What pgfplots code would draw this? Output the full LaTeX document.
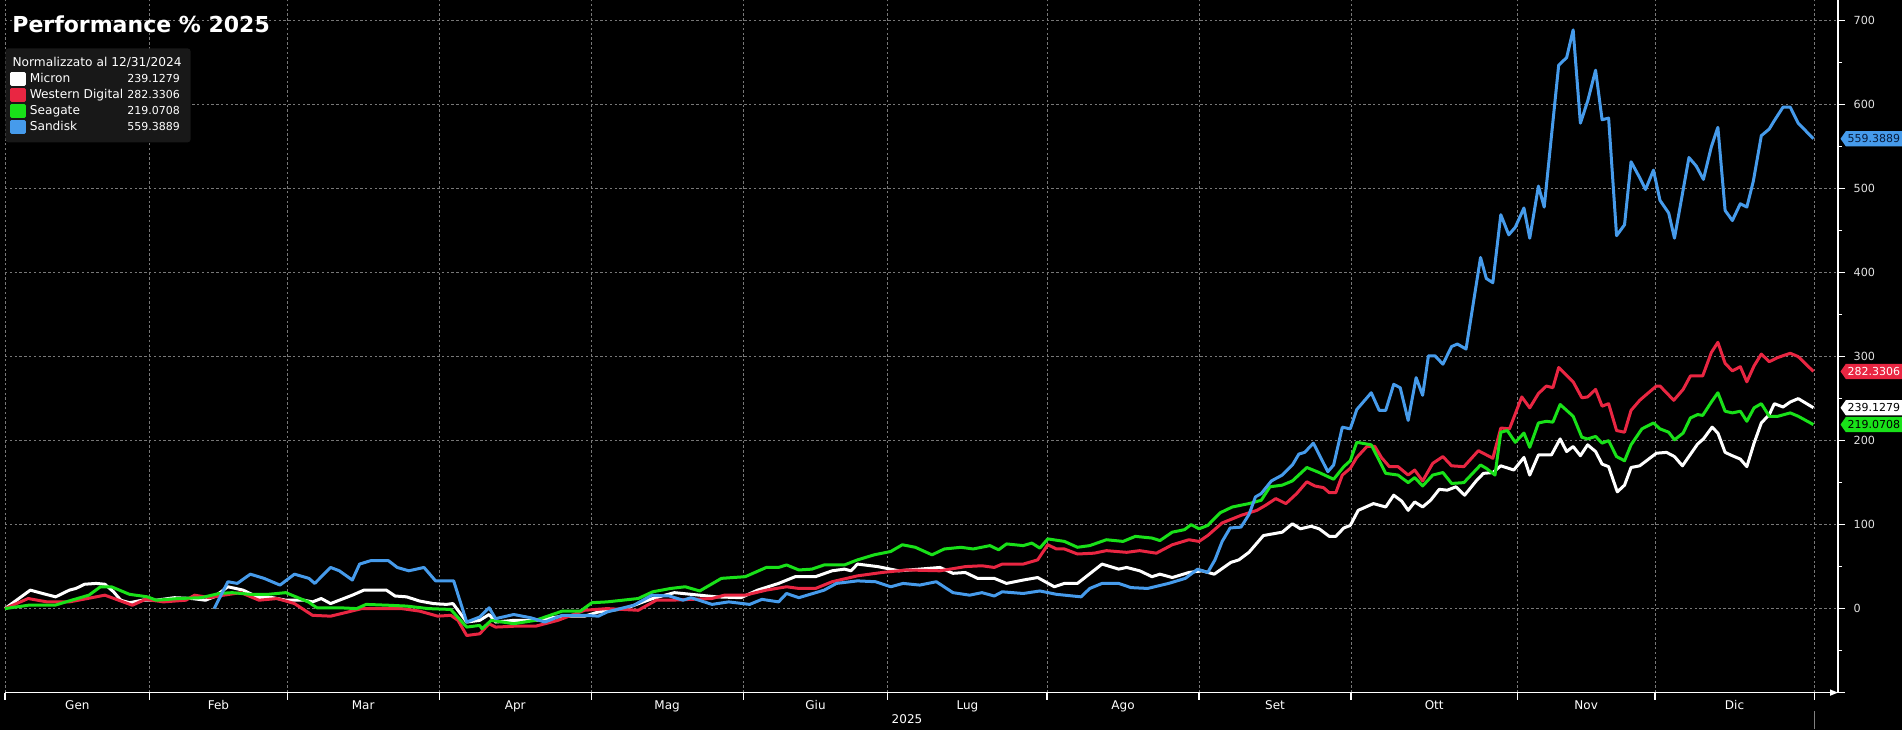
\documentclass[border=0pt]{standalone}
\usepackage{fontspec}
\setmainfont{DejaVu Sans}
\usepackage{pgfplots}
\pgfplotsset{compat=1.18}
\usetikzlibrary{shapes.symbols,arrows.meta}
\definecolor{mu}{RGB}{255,255,255}
\definecolor{wd}{RGB}{233,38,66}
\definecolor{sg}{RGB}{25,225,25}
\definecolor{sd}{RGB}{70,155,235}
\definecolor{gridc}{RGB}{120,120,120}
\definecolor{legbg}{RGB}{24,24,24}
\definecolor{navy}{RGB}{8,28,60}
\newcommand{\val}[1]{{\fontsize{5.5bp}{6.5bp}\selectfont #1}}
\begin{document}
\begin{tikzpicture}
\useasboundingbox (0,0) rectangle (951bp,365bp);
\fill[black] (-3bp,-3bp) rectangle (954bp,368bp);
\begin{axis}[
  at={(2.5bp,18.7bp)}, anchor=south west,
  scale only axis, width=916.5bp, height=346.3bp,
  xmin=0, xmax=253.3, ymin=-100, ymax=724.6,
  clip=false,
  axis x line*=bottom, axis y line*=right,
  axis line style={white, line width=0.7bp},
  x axis line style={-{Triangle[length=4bp,width=3bp]}},
  tick align=outside,
  major tick length=3.5bp, minor tick length=2bp,
  tick style={white, line width=0.6bp},
  xtick={0,20,39,60,81,102,122,144,165,186,209,228,250},
  xticklabels={},
  extra x ticks={10,29.5,49.5,70.5,91.5,112,133,154.5,175.5,197.5,218.5,239},
  extra x tick labels={Gen,Feb,Mar,Apr,Mag,Giu,Lug,Ago,Set,Ott,Nov,Dic},
  extra x tick style={major tick length=0pt, grid=none,
     xticklabel style={text=white, font=\fontsize{6bp}{7bp}\selectfont, yshift=-0.5bp}},
  ytick={-100,0,100,...,700},
  yticklabels={,0,100,200,300,400,500,600,700},
  minor y tick num=1,
  yticklabel style={text={rgb,255:red,225;green,225;blue,225}, font=\fontsize{5.6bp}{6.5bp}\selectfont, xshift=0.8bp},
  /pgf/number format/assume math mode=true,
  xmajorgrids, ymajorgrids,
  grid style={gridc, dash pattern=on 1.2bp off 1.2bp, line width=0.4bp},
  every axis plot/.append style={line width=1.5bp, line join=round, no markers},
  legend style={at={(0,0.9307)}, anchor=north west, fill=legbg, draw=none,
     text=white, font=\fontsize{6.1bp}{7bp}\selectfont, row sep=0pt,
     inner xsep=2.5bp, inner ysep=3.5bp, rounded corners=1.5bp,
     nodes={text height=5.0bp, text depth=1.6bp, inner ysep=0.7bp}},
  legend cell align=left,
  legend image code/.code={\fill[#1, sharp corners] (0bp,-2.5bp) rectangle (6.2bp,2.9bp);},
]
\addlegendimage{empty legend}
\addlegendentry{\hspace*{-8.6bp}Normalizzato al 12/31/2024}

% Micron
\addplot[color=mu] coordinates {
(0,0)(3.5,22)(5.2,18)(7.0,14)(8.9,22)(9.8,24)(11.0,29)(12.6,30)(13.8,29)(15.0,20)(16.0,10)(17.2,7)(19.0,10)(20.9,10)(23.4,13)(25.8,12)(27.7,10)(28.9,14)(30.8,26)(32.9,22)(35.1,13)(37.0,13)(38.8,10)(41.3,10)(42.5,8)(43.7,12)(45.0,6)(46.2,10)(48.0,16)(49.6,22)(51.1,22)(52.7,22)(53.9,15)(55.5,14)(57.3,9)(59.2,6)(61.0,5)(61.9,6)(63.8,-16)(65.6,-14)(66.9,-7)(67.8,-16)(70.3,-14)(73.3,-14)(77.0,-9)(80.1,-9)(82.0,-4)(85.7,0)(88.2,8)(89.5,12)(92.5,19)(94.8,17)(98.3,14)(101.7,13)(104,22)(106.9,30)(109.2,38)(112,38)(114.3,45)(116,47)(116.9,45)(117.8,53)(120.6,50)(123.5,45)(126.4,47)(129.2,49)(131,42)(132.7,43)(134.4,36)(136.7,36)(138.4,30)(140.7,34)(142.7,37)(145,26)(146.4,30)(148.2,30)(151.6,53)(153.9,47)(155,49)(156.8,45)(158.5,38)(159.6,41)(161.3,37)(163.6,43)(165.4,45)(167.1,41)(169.4,55)(170.5,58)(171.9,67)(173.9,87)(176.5,91)(177.9,101)(179,95)(180.5,98)(181.6,95)(183,86)(183.9,86)(185,96)(185.9,99)(187,117)(189.1,125)(190.8,121)(191.9,135)(193,128)(193.9,117)(194.8,127)(195.9,121)(197,129)(198.2,142)(199.3,141)(200.5,145)(201.7,135)(203.3,152)(204.3,161)(205.6,162)(206.7,170)(208.5,165)(209.9,180)(210.7,159)(211.9,183)(213.7,183)(214.9,202)(215.8,187)(216.7,193)(217.7,182)(218.7,195)(219.8,187)(220.7,172)(221.6,169)(222.8,139)(223.8,147)(224.7,168)(225.9,170)(228.2,185)(229.6,186)(230.7,181)(231.8,170)(233.9,196)(234.7,202)(235.9,216)(236.7,209)(237.7,186)(238.7,182)(239.8,178)(240.7,169)(241.7,197)(242.7,221)(243.8,231)(244.5,244)(245.7,240)(246.7,246)(247.8,250)(249.9,239.13)
};
\addlegendentry{\makebox[75bp][l]{Micron\hfill \val{239.1279}}}

% Western Digital
\addplot[color=wd] coordinates {
(0,0)(3.2,12)(5.8,8)(8.9,8)(12.0,13)(13.8,16)(15.7,10)(17.6,4)(19.4,11)(21.9,8)(25.0,10)(26.2,16)(28.3,13)(30.2,16)(32.6,19)(35.1,10)(37.6,12)(40.0,6)(42.5,-8)(45.0,-9)(47.4,-4)(49.3,0)(51.7,0)(54.8,0)(57.3,-3)(59.8,-9)(61.6,-8)(62.6,-14)(63.8,-32)(65.6,-30)(66.9,-18)(67.8,-22)(70.3,-21)(73.3,-21)(76.4,-14)(80.1,-2)(83.2,0)(87.5,-2)(90.0,10)(92,10)(94.8,11)(97.7,12)(99.4,16)(102.3,16)(105.2,22)(108,26)(109.7,24)(112,24)(114.3,32)(117.8,39)(121.2,43)(124.6,46)(129.2,45)(132.7,50)(135,51)(136.7,49)(137.8,53)(140.7,53)(142.7,58)(144.1,76)(145.3,71)(146.4,71)(148.2,65)(150.5,66)(152.2,69)(155,67)(156.8,69)(159.1,66)(161.3,76)(163.6,82)(165,80)(166.2,87)(168.2,102)(170.8,111)(173,117)(174.2,123)(175.6,131)(177,125)(178.5,137)(179.9,151)(181,146)(182.2,144)(183,138)(183.9,138)(184.8,159)(185.9,167)(186.8,180)(188.2,193)(189.3,193)(190.2,180)(191.3,169)(192.5,169)(193.9,159)(194.8,165)(195.9,152)(197.3,173)(198.7,181)(199.9,170)(201.6,169)(203.6,188)(205.6,179)(206.7,215)(207.9,214)(209.6,252)(210.7,239)(211.9,256)(213,265)(213.9,263)(214.7,287)(216.7,270)(217.9,251)(218.7,252)(219.8,261)(220.7,241)(221.6,244)(222.7,212)(223.8,210)(224.7,236)(225.9,248)(226.7,254)(228.2,265)(228.7,265)(230.6,248)(231.9,261)(232.9,277)(234.6,277)(235.8,305)(236.7,317)(237.7,292)(238.7,283)(239.8,288)(240.7,270)(241.7,289)(242.7,303)(243.8,294)(245,299)(246.7,304)(247.8,300)(249.9,282.33)
};
\addlegendentry{\makebox[75bp][l]{Western Digital\hfill \val{282.3306}}}

% Seagate
\addplot[color=sg] coordinates {
(0,0)(3.2,4)(6.9,4)(9.2,10)(11.6,16)(13.2,26)(14.7,26)(17.2,17)(19.7,14)(20.9,10)(24.0,12)(27.1,13)(29.6,18)(31.4,19)(33.9,17)(36.4,17)(38.8,19)(41.9,8)(43.1,1)(46.2,1)(48.6,0)(49.9,5)(53.0,4)(55.5,3)(58.5,0)(61.6,-1)(63.8,-22)(65.6,-20)(65.9,-24)(67.2,-14)(70.3,-18)(73.3,-14)(77.0,-3)(79.5,-3)(81.1,7)(83.2,8)(87.5,12)(89.5,20)(92,24)(94,26)(96,21)(99,36)(100.6,37)(102.3,38)(105.2,49)(106.9,49)(108,52)(109.7,46)(111.5,47)(113.2,52)(116,52)(117.8,58)(120.1,64)(122.4,68)(124,76)(125.8,73)(128.1,64)(129.8,71)(132.1,73)(133.8,71)(136.1,75)(137.3,70)(138.4,77)(140.7,75)(141.9,78)(143,72)(144.1,83)(146.4,80)(148.2,73)(149.9,75)(152.2,82)(154.5,80)(156.2,86)(158.5,84)(159.6,81)(161.3,91)(163,94)(163.9,100)(165,95)(166.2,99)(167.9,114)(169.6,121)(171.9,125)(173.6,129)(174.8,145)(176.5,147)(177.9,152)(179.9,168)(181.6,162)(183.6,154)(185,169)(185.9,176)(186.8,198)(188.8,195)(190.8,161)(192.5,159)(193.9,150)(194.8,156)(195.9,146)(197.3,159)(198.7,162)(199.9,149)(201.6,150)(203.9,171)(204.7,167)(205.9,159)(206.7,210)(207.6,212)(208.7,198)(209.9,209)(210.7,192)(211.9,221)(213,223)(213.9,222)(214.9,243)(216.7,229)(217.9,204)(218.7,202)(219.8,205)(220.7,197)(221.6,200)(222.7,181)(223.8,176)(224.7,195)(226.2,214)(227.8,221)(228.7,214)(229.9,210)(230.7,201)(231.9,209)(232.9,227)(233.9,231)(234.6,230)(235.8,246)(236.7,257)(237.7,235)(238.7,233)(239.8,235)(240.7,223)(241.7,239)(242.7,244)(243.8,229)(245,229)(246.7,233)(247.8,229)(249.9,219.07)
};
\addlegendentry{\makebox[75bp][l]{Seagate\hfill \val{219.0708}}}

% Sandisk
\addplot[color=sd] coordinates {
(28.9,0)(30.8,32)(32.1,30)(33.9,41)(35.8,36)(38.0,28)(40.0,41)(42.0,36)(42.8,30)(45.0,49)(46.2,45)(48.0,34)(49.0,53)(50.5,57)(53.0,57)(54.2,49)(55.8,45)(57.9,49)(59.5,33)(62.0,33)(63.8,-16)(65.6,-10)(66.9,1)(67.8,-12)(70.3,-7)(72.7,-11)(74.6,-16)(77.0,-8)(80.1,-8)(82.0,-9)(83.2,-4)(86.9,4)(89.4,16)(91.8,15)(93.7,10)(94.8,13)(97.7,5)(100,8)(102.9,5)(104.6,11)(106.9,8)(108,18)(109.7,13)(113.2,22)(114.9,30)(117.8,33)(120.3,32)(122.4,26)(124.1,30)(126.4,28)(128.7,32)(131,19)(133.3,16)(135,19)(136.7,15)(137.8,20)(140.7,18)(143,21)(145.3,17)(148.7,14)(149.9,24)(151.6,30)(153.9,30)(155.6,25)(157.9,24)(160.8,30)(163.1,36)(164.8,47)(166.2,43)(167.2,58)(168.2,80)(169.3,96)(170.8,97)(171.9,112)(172.8,133)(173.6,137)(175,152)(176.5,159)(177.9,171)(178.8,184)(179.6,186)(180.8,197)(182.8,163)(183.6,171)(184.8,216)(185.9,214)(186.8,237)(188.8,257)(189.9,236)(190.8,236)(191.9,267)(192.8,263)(193.9,224)(195,275)(195.9,254)(196.7,301)(197.6,301)(198.7,291)(199.9,312)(200.7,315)(201.9,309)(203.9,418)(204.7,393)(205.6,388)(206.7,469)(207.8,445)(208.7,454)(209.9,477)(210.7,441)(211.9,503)(212.7,478)(214.7,647)(215.8,656)(216.7,689)(217.7,578)(218.7,604)(219.8,641)(220.7,582)(221.6,584)(222.7,444)(223.8,457)(224.7,532)(225.9,513)(226.7,499)(227.8,522)(228.7,486)(229.9,471)(230.7,441)(232.7,537)(233.7,527)(234.7,511)(235.8,550)(236.7,573)(237.7,474)(238.7,462)(239.8,482)(240.7,478)(241.6,509)(242.7,563)(243.8,571)(244.5,581)(245.7,597)(246.7,597)(247.8,578)(249.9,559.39)
};
\addlegendentry{\makebox[75bp][l]{Sandisk\hfill \val{559.3889}}}

\tikzset{tag/.style={signal, signal to=west, signal pointer angle=110, anchor=west,
   font=\fontsize{5.5bp}{6.5bp}\selectfont, inner xsep=0.9bp, inner ysep=0pt,
   minimum height=7.6bp, text height=4.2bp, text depth=0.3bp, xshift=1.0bp}}
\node[tag, fill=sd, text=navy] at (axis cs:253.3,559.3889) {559.3889};
\node[tag, fill=wd, text=white] at (axis cs:253.3,282.3306) {282.3306};
\node[tag, fill=mu, text=black] at (axis cs:253.3,239.1279) {239.1279};
\node[tag, fill=sg, text=black] at (axis cs:253.3,219.0708) {219.0708};
\end{axis}
\node[anchor=west, text=white, font=\bfseries\fontsize{11bp}{13bp}\selectfont, inner sep=0pt] at (6bp,353bp) {Performance \% 2025};
\node[text=white, font=\fontsize{6bp}{7bp}\selectfont, inner sep=0pt] at (453.5bp,5.5bp) {2025};
\draw[gray, line width=0.5bp] (907.3bp,0.5bp) -- (907.3bp,9.5bp);
\end{tikzpicture}
\end{document}
